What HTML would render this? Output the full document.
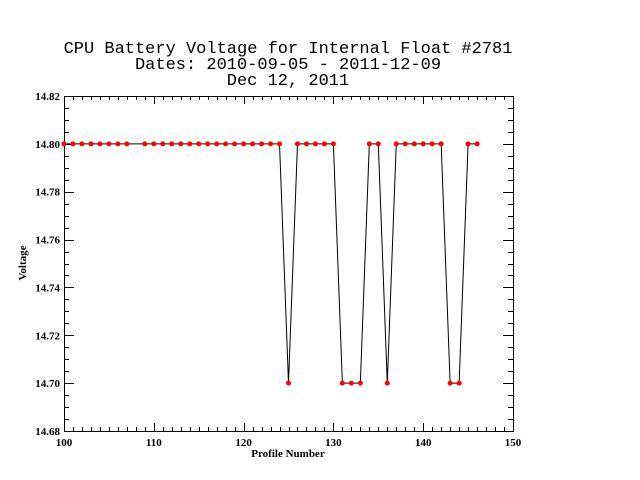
<!DOCTYPE html>
<html><head><meta charset="utf-8"><style>
body{margin:0;background:#fff;}
svg{display:block;font-family:"Liberation Serif",serif;}
</style></head><body>
<svg width="640" height="480">
<g id="ticks"></g>
<g id="series"></g>
<text x="288" y="53" text-anchor="middle" font-family="Liberation Mono, monospace" font-size="17">CPU Battery Voltage for Internal Float #2781</text>
<text x="288" y="69" text-anchor="middle" font-family="Liberation Mono, monospace" font-size="17">Dates:  2010-09-05 -  2011-12-09</text>
<text x="288" y="85" text-anchor="middle" font-family="Liberation Mono, monospace" font-size="17">Dec 12, 2011</text>
<text x="288" y="457" text-anchor="middle" font-size="11" font-weight="bold">Profile Number</text>
<text transform="translate(26,263) rotate(-90)" text-anchor="middle" font-size="11" font-weight="bold">Voltage</text>
</svg>
<script>
const xs=[100,101,102,103,104,105,106,107,109,110,111,112,113,114,115,116,117,118,119,120,121,122,123,124,125,126,127,128,129,130,131,132,133,134,135,136,137,138,139,140,141,142,143,144,145,146];
const ys=[14.80,14.80,14.80,14.80,14.80,14.80,14.80,14.80,14.80,14.80,14.80,14.80,14.80,14.80,14.80,14.80,14.80,14.80,14.80,14.80,14.80,14.80,14.80,14.80,14.70,14.80,14.80,14.80,14.80,14.80,14.70,14.70,14.70,14.80,14.80,14.70,14.80,14.80,14.80,14.80,14.80,14.80,14.70,14.70,14.80,14.80];
const xTicks=[100,110,120,130,140,150];
const yTicks=[14.68,14.70,14.72,14.74,14.76,14.78,14.80,14.82];
const L=64,R=513,T=96,B=431,x0=100,x1=150,y0=14.68,y1=14.82;
const X=v=>L+(v-x0)/(x1-x0)*(R-L);
const Y=v=>B-(v-y0)/(y1-y0)*(B-T);
const NS="http://www.w3.org/2000/svg";
const tg=document.getElementById('ticks'),sg=document.getElementById('series');
function ln(g,a,b,c,d,name){const e=document.createElementNS(NS,'line');e.setAttribute('x1',a);e.setAttribute('y1',b);e.setAttribute('x2',c);e.setAttribute('y2',d);e.setAttribute('stroke','#000');e.setAttribute('stroke-width','1');


g.appendChild(e);}
const fr=document.createElementNS(NS,'rect');fr.setAttribute('x',L+0.5);fr.setAttribute('y',T+0.5);fr.setAttribute('width',R-L);fr.setAttribute('height',B-T);fr.setAttribute('fill','none');fr.setAttribute('stroke','#000');


tg.appendChild(fr);
for(let v=x0;v<=x1;v+=1){const px=Math.round(X(v))+0.5;const maj=(v%10===0);const len=maj?8:4;
ln(tg,px,B,px,B-len,'x-tick');ln(tg,px,T,px,T+len,'x-tick-top');}
for(let i=0;i<=28;i++){const v=y0+i*0.005;const py=Math.round(Y(v))+0.5;const maj=(i%4===0);const len=maj?10:5;
ln(tg,L,py,L+len,py,'y-tick');ln(tg,R,py,R-len,py,'y-tick-right');}
xTicks.forEach(v=>{const t=document.createElementNS(NS,'text');t.setAttribute('x',X(v));t.setAttribute('y',B+15);t.setAttribute('text-anchor','middle');t.setAttribute('font-size','11');t.setAttribute('font-weight','bold');t.textContent=v;


tg.appendChild(t);});
yTicks.forEach(v=>{const t=document.createElementNS(NS,'text');t.setAttribute('x',L-4);t.setAttribute('y',Y(v)+4);t.setAttribute('text-anchor','end');t.setAttribute('font-size','11');t.setAttribute('font-weight','bold');t.textContent=v.toFixed(2);


tg.appendChild(t);});
const pl=document.createElementNS(NS,'polyline');pl.setAttribute('points',xs.map((v,i)=>X(v)+','+Y(ys[i])).join(' '));pl.setAttribute('fill','none');pl.setAttribute('stroke','#000');pl.setAttribute('stroke-width','1');


sg.appendChild(pl);
xs.forEach((v,i)=>{const c=document.createElementNS(NS,'circle');c.setAttribute('cx',X(v));c.setAttribute('cy',Y(ys[i]));c.setAttribute('r','2.5');c.setAttribute('fill','#f00');


sg.appendChild(c);});
</script>
</body></html>
